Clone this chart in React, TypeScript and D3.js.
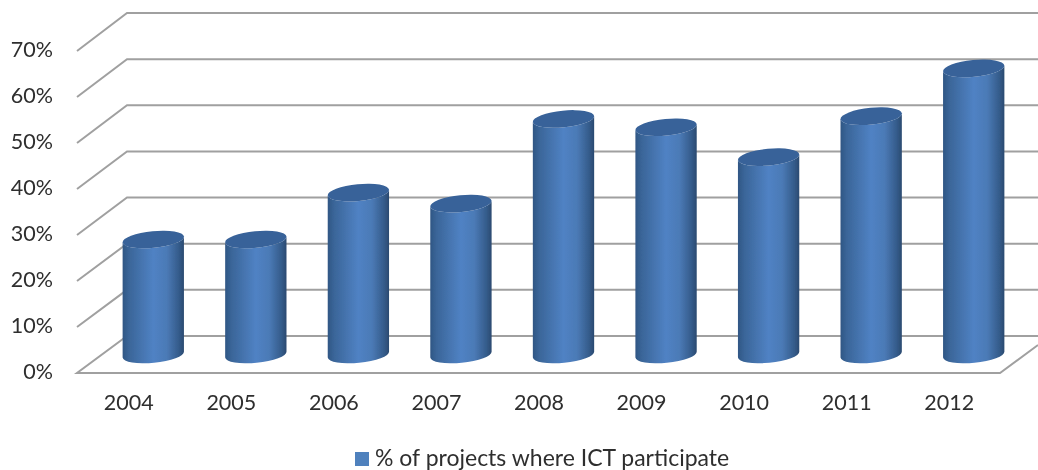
import React from "react";
import * as d3 from "d3";

const years = ["2004", "2005", "2006", "2007", "2008", "2009", "2010", "2011", "2012"];
const shares = [25, 25, 35.2, 32.8, 51.2, 49.4, 42.9, 51.8, 62.2];
const ticks = [0, 10, 20, 30, 40, 50, 60, 70];
const legendLabel = "% of projects where ICT participate";

const W = 1038, H = 470;
const yFront = d3.scaleLinear().domain([0, 70]).range([373, 51]);
const yBack = d3.scaleLinear().domain([0, 70]).range([336, 13]);
const yBar = d3.scaleLinear().domain([0, 70]).range([354.5, 32.5]);
const x = d3.scaleBand().domain(years).range([102, 1025]).paddingInner(0);
const FONT = "Lato, 'Open Sans', sans-serif";
const GRID = "#a0a0a0";
const TILT = (-5.5 * Math.PI) / 180;
const RX = 30.8, RY = 8.4;

function cylinder(cx: number, yTop: number, yBottom: number) {
  const dx = RX * Math.cos(TILT), dy = RX * Math.sin(TILT);
  const deg = (TILT * 180) / Math.PI;
  const body = `M${cx - dx},${yTop - dy}L${cx - dx},${yBottom - dy}A${RX},${RY} ${deg} 0 0 ${cx + dx},${yBottom + dy}L${cx + dx},${yTop + dy}A${RX},${RY} ${deg} 0 1 ${cx - dx},${yTop - dy}Z`;
  const top = `M${cx - dx},${yTop - dy}A${RX},${RY} ${deg} 0 1 ${cx + dx},${yTop + dy}A${RX},${RY} ${deg} 0 1 ${cx - dx},${yTop - dy}Z`;
  return { body, top };
}

export default function App() {
  return (
    <svg width={W} height={H} viewBox={`0 0 ${W} ${H}`} style={{ position: "absolute", left: 0, top: 0, background: "#fff" }}>
      <defs>
        <linearGradient id="cyl" x1="0" x2="1" y1="0" y2="0">
          <stop offset="0" stopColor="#2f5684" />
          <stop offset="0.1" stopColor="#3a6598" />
          <stop offset="0.5" stopColor="#5082c4" />
          <stop offset="0.72" stopColor="#4b7ab6" />
          <stop offset="0.92" stopColor="#345b8a" />
          <stop offset="1" stopColor="#2b4a70" />
        </linearGradient>
        <filter id="soft" x="-5%" y="-5%" width="110%" height="110%">
          <feGaussianBlur stdDeviation="0.45" />
        </filter>
      </defs>
      <g filter="url(#soft)">
        {ticks.slice(1).map((t) => (
          <polyline key={t} fill="none" stroke={GRID} strokeWidth={2}
            points={`77,${yFront(t)} 127,${yBack(t)} ${W},${yBack(t)}`} />
        ))}
        <polyline fill="none" stroke={GRID} strokeWidth={2}
          points={`${W},${yBack(0)} 127,${yBack(0)} 77,${yFront(0)} 1000,${yFront(0)} ${W},${yFront(0) - 28}`} />
        {years.map((yr, i) => {
          const cx = x(yr)! + x.bandwidth() / 2;
          const c = cylinder(cx, yBar(shares[i]), yBar(0));
          return (
            <g key={yr}>
              <path d={c.body} fill="url(#cyl)" />
              <path d={c.top} fill="#386299" />
            </g>
          );
        })}
        {ticks.map((t) => (
          <text key={t} x={53} y={yFront(t) + 6} textAnchor="end" fontFamily={FONT} fontSize={21.5} fill="#2f2f2f">{`${t}%`}</text>
        ))}
        {years.map((yr) => (
          <text key={yr} x={x(yr)! + x.bandwidth() / 2 - 24.5} y={410} textAnchor="middle" fontFamily={FONT} fontSize={21.5} fill="#2f2f2f">{yr}</text>
        ))}
        <rect x={355} y={452} width={14} height={14} fill="#4f81bd" />
        <text x={375} y={466} fontFamily={FONT} fontSize={23} fill="#2f2f2f">{legendLabel}</text>
      </g>
    </svg>
  );
}
